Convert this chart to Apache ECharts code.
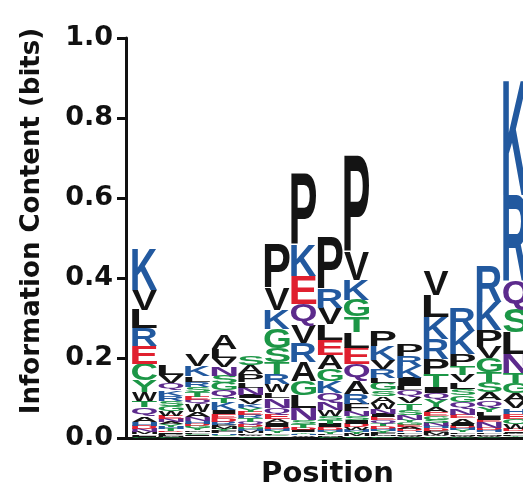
<!DOCTYPE html>
<html>
<head>
<meta charset="utf-8">
<script src="https://cdn.jsdelivr.net/npm/echarts@6/dist/echarts.min.js"></script>
<style>
  html, body { margin: 0; padding: 0; background: #fff; }
  #chart { width: 523px; height: 492px; }
</style>
</head>
<body>
<div id="chart"></div>
<script>
// Sequence logo: information content per position, letters listed top to bottom.
const yTicks = [0.0, 0.2, 0.4, 0.6, 0.8, 1.0];
const positions = [1, 2, 3, 4, 5, 6, 7, 8, 9, 10, 11, 12, 13, 14, 15];

const pos1 = [['K',.105],['V',.05],['L',.047],['R',.044],['E',.044],['C',.042],['Y',.03],['W',.022],['T',.015],['Q',.022],['A',.014],['H',.01],['D',.008],['N',.008],['M',.005],['F',.004],['I',.003],['G',.003]];
const pos2 = [['L',.026],['V',.02],['Q',.018],['K',.014],['R',.014],['S',.013],['G',.012],['W',.011],['E',.008],['N',.008],['A',.006],['Y',.006],['H',.005],['T',.005],['D',.004],['I',.003],['P',.003],['F',.002],['M',.003],['C',.003]];
const pos3 = [['V',.03],['K',.027],['L',.013],['R',.014],['S',.012],['T',.012],['E',.008],['Q',.011],['W',.018],['A',.014],['N',.01],['H',.006],['D',.006],['G',.006],['Y',.005],['M',.004],['F',.004],['C',.004],['I',.003],['P',.004]];
const pos4 = [['A',.036],['L',.022],['V',.022],['N',.022],['S',.018],['G',.018],['Q',.02],['T',.012],['K',.018],['I',.01],['E',.01],['D',.009],['R',.008],['P',.006],['M',.005],['Y',.005],['F',.005],['H',.004],['C',.004],['W',.004]];
const pos5 = [['S',.024],['A',.022],['P',.02],['L',.014],['N',.018],['I',.008],['V',.014],['K',.011],['Y',.008],['E',.009],['R',.008],['T',.008],['Q',.007],['D',.006],['G',.006],['H',.005],['M',.005],['F',.004],['W',.004],['C',.004]];
const pos6 = [['P',.11],['V',.055],['K',.048],['G',.048],['S',.035],['T',.03],['R',.025],['W',.02],['L',.014],['N',.024],['Q',.016],['E',.012],['A',.01],['I',.01],['D',.006],['H',.005],['Y',.005],['F',.004],['C',.004],['M',.004]];
const pos7 = [['P',.18],['K',.078],['E',.07],['Q',.052],['V',.045],['R',.047],['A',.047],['G',.035],['L',.032],['N',.032],['S',.01],['T',.008],['D',.006],['I',.005],['Y',.004],['H',.004],['W',.004],['F',.003]];
const pos8 = [['P',.13],['R',.048],['V',.042],['L',.038],['E',.038],['A',.035],['G',.03],['K',.03],['Q',.025],['N',.018],['W',.015],['S',.01],['T',.01],['I',.008],['D',.006],['H',.005],['Y',.005],['F',.004],['M',.004],['C',.003]];
const pos9 = [['P',.24],['V',.07],['K',.05],['G',.042],['T',.04],['L',.038],['E',.042],['Q',.04],['A',.033],['R',.026],['F',.018],['N',.013],['S',.01],['I',.008],['D',.008],['W',.007],['H',.006],['Y',.006],['M',.005],['C',.004]];
const pos10 = [['P',.038],['K',.036],['V',.022],['R',.022],['L',.013],['G',.018],['S',.014],['A',.017],['W',.016],['N',.012],['I',.008],['E',.008],['Q',.008],['T',.007],['D',.006],['H',.005],['Y',.005],['F',.005],['M',.004],['C',.004]];
const pos11 = [['P',.03],['R',.025],['K',.028],['I',.022],['L',.008],['Q',.018],['V',.015],['T',.017],['S',.013],['N',.013],['Y',.006],['G',.006],['E',.005],['A',.005],['D',.005],['H',.004],['F',.004],['M',.004],['W',.003],['C',.003]];
const pos12 = [['V',.06],['L',.055],['K',.055],['R',.05],['P',.038],['T',.032],['I',.015],['Q',.018],['Y',.018],['A',.013],['E',.01],['G',.008],['S',.008],['N',.008],['H',.006],['D',.006],['F',.005],['M',.005],['W',.004],['C',.004]];
const pos13 = [['R',.058],['K',.058],['P',.03],['T',.022],['V',.018],['L',.016],['S',.016],['G',.017],['Q',.017],['N',.016],['E',.008],['A',.014],['I',.006],['D',.005],['H',.005],['Y',.005],['F',.004],['M',.004],['W',.003],['C',.003]];
const pos14 = [['R',.09],['K',.07],['P',.042],['V',.028],['G',.035],['T',.025],['S',.025],['A',.02],['Q',.018],['Y',.013],['L',.008],['I',.01],['E',.006],['N',.016],['D',.005],['H',.005],['F',.004],['M',.004],['W',.003],['C',.003]];
const pos15 = [['K',.29],['R',.215],['Q',.07],['S',.06],['L',.053],['N',.048],['T',.025],['G',.025],['A',.02],['V',.018],['H',.013],['E',.013],['C',.013],['W',.013],['D',.005],['I',.004],['M',.004],['F',.003],['Y',.003],['P',.003]];

const columns = [pos1, pos2, pos3, pos4, pos5, pos6, pos7, pos8, pos9, pos10, pos11, pos12, pos13, pos14, pos15];

// Residue colour classes
const basicRes = ['K', 'R', 'H'];
const acidicRes = ['D', 'E'];
const amideRes = ['N', 'Q'];
const polarRes = ['G', 'S', 'T', 'Y', 'C'];
const hydrophobicRes = ['A', 'V', 'L', 'I', 'P', 'W', 'F', 'M'];

const residueColor = {};
basicRes.forEach(r => residueColor[r] = '#22599f');
acidicRes.forEach(r => residueColor[r] = '#e0202f');
amideRes.forEach(r => residueColor[r] = '#5c2a8c');
polarRes.forEach(r => residueColor[r] = '#1c9646');
hydrophobicRes.forEach(r => residueColor[r] = '#141414');

// Ink box of each glyph, measured around the 'middle' baseline so a
// stretched text element can be fitted exactly into its stack slot.
const LETTER_FONT = 'bold 100px "Liberation Sans", Arial, sans-serif';
const glyphBox = {};
(function measureGlyphs() {
  const ctx = document.createElement('canvas').getContext('2d');
  ctx.font = LETTER_FONT;
  ctx.textBaseline = 'middle';
  ctx.textAlign = 'left';
  Object.keys(residueColor).forEach(ch => {
    const m = ctx.measureText(ch);
    glyphBox[ch] = {
      l: m.actualBoundingBoxLeft,
      r: m.actualBoundingBoxRight,
      a: m.actualBoundingBoxAscent,
      d: m.actualBoundingBoxDescent
    };
  });
})();

const columnTotals = columns.map(col => col.reduce((s, e) => s + e[1], 0));

function renderStack(params, api) {
  const col = columns[params.dataIndex];
  const xPos = api.value(0);
  const half = 0.475;
  const left = api.coord([xPos - half, 0])[0];
  const right = api.coord([xPos + half, 0])[0];
  const children = [];
  let base = 0;
  for (let i = col.length - 1; i >= 0; i--) {
    const ch = col[i][0];
    const h = col[i][1];
    const yBottom = api.coord([xPos, base])[1];
    const yTop = api.coord([xPos, base + h])[1];
    base += h;
    const g = glyphBox[ch];
    const sx = (right - left) / (g.l + g.r);
    const sy = (yBottom - yTop) / (g.a + g.d);
    children.push({
      type: 'text',
      x: left + sx * g.l,
      y: yTop + sy * g.a,
      scaleX: sx,
      scaleY: sy,
      silent: true,
      style: {
        text: ch,
        x: 0,
        y: 0,
        font: LETTER_FONT,
        fill: residueColor[ch],
        align: 'left',
        verticalAlign: 'middle'
      }
    });
  }
  return { type: 'group', children: children };
}

const axisFont = '"DejaVu Sans", Arial, sans-serif';
const chart = echarts.init(document.getElementById('chart'), null, { renderer: 'canvas' });

chart.setOption({
  animation: false,
  backgroundColor: '#ffffff',
  grid: {
    left: 126,
    top: 38,
    bottom: 54,
    right: -6,
    containLabel: false,
    outerBoundsMode: 'none'
  },
  xAxis: {
    type: 'value',
    min: 0.3,
    max: 15.5,
    name: 'Position',
    nameLocation: 'middle',
    nameGap: 22,
    nameTextStyle: { fontFamily: axisFont, fontWeight: 'bold', fontSize: 29, color: '#111' },
    axisLine: { show: true, onZero: false, lineStyle: { color: '#111', width: 3 } },
    axisTick: { show: false },
    axisLabel: { show: false },
    splitLine: { show: false }
  },
  yAxis: {
    type: 'value',
    min: yTicks[0],
    max: yTicks[yTicks.length - 1],
    interval: 0.2,
    name: 'Information Content (bits)',
    nameLocation: 'middle',
    nameGap: 81,
    nameTextStyle: { fontFamily: axisFont, fontWeight: 'bold', fontSize: 26, color: '#111', padding: [0, 0, 0, 34] },
    axisLine: { show: true, lineStyle: { color: '#111', width: 3 } },
    axisTick: { show: true, length: 9, lineStyle: { color: '#111', width: 3 } },
    axisLabel: {
      fontFamily: axisFont, fontWeight: 'bold', fontSize: 27, color: '#111', margin: 13,
      formatter: v => v.toFixed(1)
    },
    splitLine: { show: false }
  },
  series: [{
    type: 'custom',
    renderItem: renderStack,
    clip: false,
    encode: { x: 0, y: 1 },
    data: positions.map((p, i) => [p, columnTotals[i]])
  }]
});
</script>
</body>
</html>
